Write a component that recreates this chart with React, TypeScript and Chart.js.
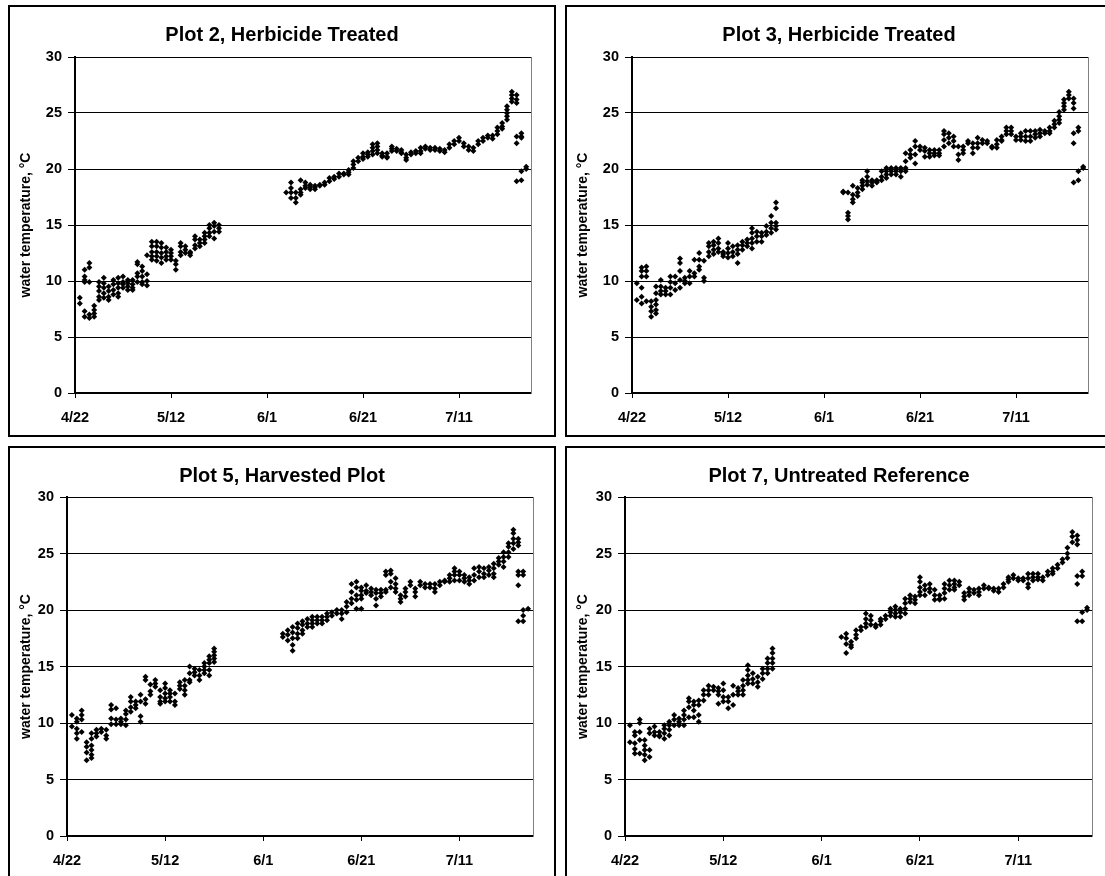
import React, { useEffect, useRef } from "react";
import { Chart, registerables } from "chart.js";

Chart.register(...registerables);

// Days after 4/22 on which readings were taken
const sampleDays = [
  1, 2, 3, 4, 5, 6, 7, 8, 9, 10, 11, 12, 13, 14, 15, 16, 17, 18, 19, 20, 21, 22, 23, 24, 25, 26, 27, 28, 29, 30,
  44, 45, 46, 47, 48, 49, 50, 51, 52, 53, 54, 55, 56, 57, 58, 59, 60, 61, 62, 63, 64, 65, 66, 67, 68, 69, 70,
  71, 72, 73, 74, 75, 76, 77, 78, 79, 80, 81, 82, 83, 84, 85, 86, 87, 88, 89, 90, 91, 92, 93, 94,
];

const xTickDays = [0, 20, 40, 60, 80];
const xTickLabels = ["4/22", "5/12", "6/1", "6/21", "7/11"];

const plot2Temps = [
  [8.5, 8.0], [11.0, 10.4, 10.1, 9.9, 7.3, 6.8], [11.6, 11.2, 9.9, 7.0, 6.7], [7.8, 7.4, 7.1, 6.8],
  [9.9, 9.5, 9.1, 8.6, 8.3], [10.3, 9.8, 9.4, 8.9, 8.5], [9.5, 9.1, 8.6, 8.3], [10.1, 9.7, 9.2, 8.8],
  [10.3, 9.8, 9.4, 8.9, 8.6], [10.4, 9.9, 9.7, 9.4], [10.1, 9.8, 9.5, 9.2], [10.1, 9.7, 9.4, 9.2],
  [11.7, 11.5, 10.7, 10.4, 9.9], [11.3, 10.9, 10.4, 9.9, 9.7], [12.3, 10.6, 10.0, 9.6], [13.5, 13.1, 12.6, 12.2, 11.9],
  [13.5, 13.1, 12.6, 12.2, 11.8], [13.4, 13.0, 12.5, 12.1, 11.6], [13.0, 12.6, 12.2, 11.9], [12.8, 12.5, 12.2, 11.9],
  [11.8, 11.5, 11.0], [13.4, 13.1, 12.6, 12.3], [13.1, 12.8, 12.5], [12.6, 12.5, 12.3],
  [14.0, 13.7, 13.2, 12.9], [13.7, 13.4, 13.1], [14.3, 14.0, 13.7, 13.4], [15.0, 14.7, 14.3, 14.0],
  [15.2, 14.9, 14.4, 13.8], [15.0, 14.7, 14.4],
  [17.9], [18.8, 18.3, 17.9, 17.4], [17.9, 17.4, 17.0], [19.0, 18.2, 17.9, 17.7], [18.8, 18.5, 18.3],
  [18.6, 18.4, 18.2], [18.5, 18.4, 18.2], [18.6, 18.5], [18.8, 18.6], [19.2, 18.9], [19.3, 19.1],
  [19.6, 19.3], [19.6, 19.5], [19.9, 19.7, 19.5], [20.7, 20.4, 20.1], [21.0, 20.7], [21.4, 21.1, 20.9],
  [21.5, 21.3, 21.1], [22.2, 21.9, 21.6, 21.3], [22.3, 22.0, 21.7, 21.4], [21.4, 21.2, 21.1], [21.4, 21.1, 21.0],
  [22.0, 21.8, 21.6], [21.8, 21.6], [21.7, 21.5, 21.4], [21.3, 21.0, 20.8], [21.5, 21.3], [21.6, 21.4],
  [21.9, 21.6, 21.4], [22.0, 21.8], [21.9, 21.7], [21.9, 21.7], [21.8, 21.6], [21.7, 21.5], [22.2, 21.9],
  [22.5, 22.2], [22.8, 22.5], [22.3, 22.0], [22.0, 21.7], [21.9, 21.6], [22.5, 22.2], [22.8, 22.5],
  [23.0, 22.8], [23.0, 22.7], [23.7, 23.4, 23.1], [24.1, 23.8, 23.6], [25.6, 25.3, 25.0, 24.7, 24.4],
  [26.9, 26.6, 26.3, 26.0], [26.6, 26.2, 25.9, 22.9, 22.3, 18.9], [23.2, 22.9, 22.8, 19.8, 19.0], [20.2, 20.0],
];

const plot3Temps = [
  [9.8, 8.3], [11.2, 10.9, 10.4, 9.4, 8.6, 8.0], [11.3, 10.9, 10.4, 8.2], [8.2, 7.7, 7.3, 6.8],
  [9.5, 8.9, 8.3, 7.9, 7.4, 7.1], [10.1, 9.5, 9.1, 8.8], [9.4, 9.1, 8.8], [10.4, 9.9, 9.4, 8.8],
  [10.4, 9.8, 9.2], [12.0, 11.6, 10.9, 10.1, 9.4], [10.3, 10.0, 9.8], [10.9, 10.4, 9.8],
  [11.9, 10.7, 10.4], [12.5, 11.9, 11.3, 11.0], [11.8, 10.3, 10.0], [13.4, 13.1, 12.6, 12.2],
  [13.5, 13.2, 12.8, 12.4], [13.8, 13.4, 12.9, 12.6], [12.6, 12.4, 12.2], [13.4, 12.9, 12.5, 12.1],
  [13.1, 12.6, 12.2], [13.2, 12.8, 12.4, 11.6], [13.5, 13.2, 12.8], [13.7, 13.4, 13.1],
  [14.7, 14.3, 13.8, 13.4, 12.9], [14.4, 14.0, 13.5], [14.3, 14.0, 13.5], [14.9, 14.4, 14.1],
  [15.8, 15.2, 14.7, 14.3], [17.0, 16.5, 15.2, 14.9, 14.6],
  [18.0, 17.9], [17.9, 16.1, 15.8, 15.5], [18.5, 17.7, 17.3, 17.0], [18.3, 17.9, 17.6], [19.0, 18.8, 18.5, 18.2],
  [19.8, 19.3, 18.9, 18.6], [19.0, 18.8, 18.5], [19.0, 18.9, 18.8], [19.8, 19.3, 19.0], [20.1, 19.8, 19.5, 19.2],
  [20.1, 19.8, 19.5], [20.1, 19.8, 19.5], [20.1, 19.8, 19.3], [21.4, 20.7, 20.1, 19.8], [21.7, 21.3, 21.0],
  [22.5, 22.0, 21.3, 20.5], [22.0, 21.7], [21.9, 21.6, 21.1], [21.7, 21.4, 21.1], [21.7, 21.4, 21.2],
  [21.7, 21.4, 21.2], [23.4, 23.1, 22.6, 22.0], [23.2, 22.8, 22.3], [22.9, 22.5, 22.0], [22.0, 21.3, 20.8],
  [22.0, 21.7, 21.4], [22.5, 22.3], [22.3, 21.9, 21.4], [22.8, 22.3, 21.9], [22.6, 22.3], [22.5, 22.3],
  [22.0, 21.9], [22.6, 22.2, 21.9], [22.9, 22.6, 22.5], [23.7, 23.4, 23.1], [23.7, 23.4, 23.1], [22.9, 22.6],
  [23.2, 22.9, 22.6], [23.4, 22.9, 22.5], [23.4, 22.9, 22.5], [23.4, 23.1, 22.8], [23.5, 23.2, 22.9],
  [23.4, 23.2], [23.7, 23.4, 23.2], [24.3, 24.0, 23.7], [25.1, 24.7, 24.4, 24.1], [26.2, 25.9, 25.6, 25.3],
  [26.9, 26.6, 26.3], [26.3, 25.9, 25.4, 23.2, 22.3, 18.8], [23.7, 23.4, 19.8, 19.0], [20.2, 20.1],
];

const plot5Temps = [
  [10.7, 9.7], [10.4, 10.1, 9.5, 9.1, 8.6], [11.1, 10.7, 10.3, 9.2], [8.3, 7.9, 7.4, 6.7],
  [9.1, 8.6, 8.0, 7.6, 7.2, 6.9], [9.4, 9.1, 8.8], [9.5, 9.2], [9.4, 8.9, 8.6],
  [11.6, 11.2, 10.4, 9.9], [11.3, 10.3, 9.9], [10.4, 10.1, 9.9], [11.1, 10.8, 10.3, 9.8],
  [12.3, 11.9, 11.4, 11.0], [11.9, 11.6, 11.3], [12.5, 11.9, 10.6, 10.1], [14.1, 13.8, 12.1, 11.7],
  [13.4, 12.8, 12.5], [13.8, 13.5, 13.2], [12.9, 12.3, 11.9, 11.7], [13.5, 13.1, 12.6, 12.2, 11.9],
  [12.9, 12.6, 12.3, 11.9], [12.6, 11.9, 11.6], [13.6, 13.3, 13.0], [13.8, 13.3, 12.9, 12.5],
  [15.0, 14.4, 13.8, 13.6], [14.8, 14.5, 14.2], [14.7, 14.2, 13.8], [15.3, 15.0, 14.7, 14.4],
  [15.9, 15.6, 15.3, 14.7, 14.2], [16.6, 16.3, 16.0, 15.7, 15.4],
  [17.9, 17.6], [18.2, 17.8, 17.3], [18.5, 18.0, 17.5, 16.9, 16.4], [18.8, 18.4, 17.9, 17.5], [19.0, 18.7, 18.2, 17.9],
  [19.2, 18.8, 18.5], [19.4, 19.1, 18.8, 18.5], [19.4, 19.1, 18.8], [19.4, 19.1, 18.8], [19.7, 19.4, 19.1],
  [19.8, 19.5], [20.0, 19.7], [20.0, 19.7, 19.2], [20.7, 20.3, 19.8], [22.3, 21.6, 21.0, 20.6],
  [22.5, 22.0, 21.3, 20.9, 20.1], [22.0, 21.7, 21.3, 21.0, 20.1], [22.2, 21.7, 21.5], [21.9, 21.6, 21.3],
  [21.8, 21.5, 21.0, 20.4], [21.8, 21.5, 21.2], [23.4, 23.1, 21.8, 21.6], [23.5, 23.2, 22.5, 22.0],
  [22.8, 22.3, 21.9, 21.6], [21.3, 21.0, 20.7], [21.9, 21.6, 21.2], [22.5, 22.2], [21.9, 21.6, 21.2],
  [22.5, 22.2], [22.3, 22.0], [22.3, 22.0], [22.3, 21.9, 21.6], [22.5, 22.2], [22.6, 22.5],
  [23.1, 22.8, 22.5], [23.7, 23.4, 23.1, 22.6], [23.4, 23.1, 22.6], [23.1, 22.8, 22.5], [22.9, 22.6, 22.3],
  [23.7, 23.1, 22.6], [23.8, 23.4, 22.9], [23.7, 23.2, 22.9], [23.8, 23.5, 23.1], [24.1, 23.7, 23.2, 22.9],
  [24.6, 24.3, 24.0], [25.1, 24.7, 24.3, 23.8], [25.9, 25.6, 25.1, 24.7], [27.1, 26.8, 26.3, 25.9, 25.4],
  [26.3, 26.0, 25.7, 23.4, 23.1, 22.2, 19.0], [23.4, 23.1, 20.0, 19.5, 19.0], [20.1],
];

const plot7Temps = [
  [9.8, 8.3], [9.2, 8.9, 8.2, 7.7, 7.3], [10.3, 10.0, 9.2, 8.5, 7.3], [8.5, 8.0, 7.6, 7.2, 6.7],
  [9.5, 9.1, 7.6, 7.0], [9.7, 9.2, 8.9], [9.2, 8.9, 8.8], [9.8, 9.5, 9.1, 8.6],
  [10.1, 9.8, 9.4, 8.9], [10.7, 10.3, 9.8], [10.4, 10.1, 9.8], [11.1, 10.7, 10.3, 9.8],
  [12.2, 11.9, 11.4, 10.5], [11.9, 11.6, 11.1, 10.5], [12.0, 11.6, 10.7, 10.1], [12.9, 12.5, 12.0],
  [13.3, 12.9, 12.5], [13.2, 12.9], [13.1, 12.8, 12.5, 11.7], [13.5, 12.9, 12.3, 11.9],
  [12.3, 11.9, 11.3], [13.3, 12.5, 11.6], [13.1, 12.8, 12.5], [13.8, 13.3, 12.9, 12.5],
  [15.1, 14.7, 14.2, 13.8, 13.5], [14.4, 13.9, 13.5], [14.1, 13.6, 13.2], [14.8, 14.4, 13.9],
  [15.7, 15.3, 14.8, 14.4], [16.6, 16.2, 15.7, 15.3, 14.8],
  [17.6], [17.9, 17.5, 17.0, 16.2], [17.2, 16.9, 16.7], [18.2, 17.8, 17.5], [18.5, 18.2],
  [19.7, 19.2, 18.8, 18.5], [19.5, 19.1, 18.7], [18.7, 18.5], [19.2, 19.0, 18.7], [19.5, 19.2],
  [20.1, 19.8, 19.5], [20.3, 20.0, 19.7, 19.4], [20.1, 19.8, 19.4], [21.0, 20.6, 20.1, 19.7], [21.3, 21.0, 20.7],
  [21.2, 20.9, 20.6], [22.9, 22.5, 22.0, 21.6, 21.3], [22.2, 21.8, 21.3], [22.3, 21.9, 21.6], [21.8, 21.3, 20.9],
  [21.3, 21.0, 20.9], [22.3, 21.9, 21.5, 21.0], [22.6, 22.2, 21.8], [22.6, 22.3, 22.0, 21.8], [22.5, 22.2],
  [21.5, 21.2, 20.9], [21.9, 21.6, 21.3], [21.8, 21.5], [21.9, 21.6, 21.3], [22.2, 21.9], [22.0, 21.9],
  [21.9, 21.7], [21.9, 21.6], [22.3, 22.0], [22.9, 22.7, 22.5], [23.1, 22.8], [22.8, 22.6],
  [22.8, 22.6], [23.2, 22.8, 22.3, 22.0], [23.2, 22.9, 22.6], [23.2, 22.9, 22.7], [22.9, 22.6],
  [23.4, 23.1], [23.7, 23.4, 23.2], [24.0, 23.7], [24.5, 24.2], [25.5, 25.0, 24.6],
  [26.9, 26.5, 26.0], [26.6, 26.2, 25.8, 23.0, 22.3, 19.0], [23.4, 23.0, 19.8, 19.0], [20.2, 20.0],
];

const panelTitles = [
  "Plot 2, Herbicide Treated",
  "Plot 3, Herbicide Treated",
  "Plot 5, Harvested Plot",
  "Plot 7, Untreated Reference",
];
const panelTemps = [plot2Temps, plot3Temps, plot5Temps, plot7Temps];

const yAxisTitle = "water temperature, °C";

// layout (page px): box position, and plot area inside the canvas
const panelBoxes = [
  { left: 8, top: 5, pl: 65, pt: 50, pr: 521, pb: 386 },
  { left: 565, top: 5, pl: 65, pt: 50, pr: 521, pb: 386 },
  { left: 8, top: 446, pl: 57, pt: 49, pr: 523, pb: 388 },
  { left: 565, top: 446, pl: 58, pt: 49, pr: 525, pb: 388 },
];

const BOX_W = 548;
const BOX_H = 432;
const BORDER = 2;
const CW = BOX_W - 2 * BORDER;
const CH = BOX_H - 2 * BORDER;
const FONT = "'Liberation Sans', Arial, sans-serif";

function Panel({ index }: { index: number }) {
  const ref = useRef<HTMLCanvasElement | null>(null);
  useEffect(() => {
    if (!ref.current) return;
    const box = panelBoxes[index];
    const temps = panelTemps[index];
    const points = sampleDays.flatMap((d, i) => temps[i].map((v) => ({ x: d, y: v })));
    const titleSize = 20;
    const titleLH = titleSize * 1.2;
    const titleTop = 16;
    const chart = new Chart(ref.current, {
      type: "scatter",
      data: {
        datasets: [
          {
            data: points,
            pointStyle: "rectRot",
            pointRadius: 3,
            pointBackgroundColor: "#000",
            pointBorderColor: "#000",
            pointBorderWidth: 0,
            showLine: false,
          },
        ],
      },
      options: {
        animation: false,
        responsive: false,
        maintainAspectRatio: false,
        devicePixelRatio: 1,
        events: [],
        layout: { padding: 0 },
        plugins: {
          legend: { display: false },
          tooltip: { enabled: false },
          title: {
            display: true,
            text: panelTitles[index],
            color: "#000",
            font: { family: FONT, size: titleSize, weight: "bold", lineHeight: 1.2 },
            padding: { top: titleTop, bottom: box.pt - titleTop - titleLH },
          },
        },
        scales: {
          x: {
            type: "linear",
            min: 0,
            max: 95,
            afterBuildTicks: (s: any) => {
              s.ticks = xTickDays.map((v) => ({ value: v }));
            },
            afterFit: (s: any) => {
              s.height = CH - box.pb;
            },
            ticks: {
              color: "#000",
              font: { family: FONT, size: 14.5, weight: "bold" },
              padding: 11,
              maxRotation: 0,
              autoSkip: false,
              callback: (_v: any, i: number) => xTickLabels[i],
            },
            grid: { drawOnChartArea: false, drawTicks: true, tickLength: 5, color: "#000", lineWidth: 1 },
            border: { display: true, color: "#000", width: 2 },
          },
          y: {
            type: "linear",
            position: "left",
            min: 0,
            max: 30,
            afterFit: (s: any) => {
              s.width = box.pl;
            },
            ticks: {
              stepSize: 5,
              color: "#000",
              font: { family: FONT, size: 14.5, weight: "bold" },
              padding: 6,
            },
            grid: { drawOnChartArea: true, drawTicks: true, tickLength: 7, color: "#000", lineWidth: 1 },
            border: { display: true, color: "#000", width: 2 },
            title: {
              display: true,
              text: yAxisTitle,
              color: "#000",
              font: { family: FONT, size: 14, weight: "bold", lineHeight: 1.2 },
              padding: { top: 8, bottom: 0 },
            },
          },
          yRight: {
            type: "linear",
            position: "right",
            display: true,
            afterFit: (s: any) => {
              s.width = CW - box.pr;
            },
            ticks: { display: false },
            grid: { display: false, drawTicks: false },
            border: { display: true, color: "#808080", width: 1 },
          },
        },
      },
    });
    return () => chart.destroy();
  }, [index]);
  const box = panelBoxes[index];
  return (
    <div
      style={{
        position: "absolute",
        left: box.left,
        top: box.top,
        width: BOX_W,
        height: BOX_H,
        boxSizing: "border-box",
        border: `${BORDER}px solid #000`,
        background: "#fff",
      }}
    >
      <canvas ref={ref} width={CW} height={CH} style={{ display: "block", width: CW, height: CH }} />
    </div>
  );
}

export default function App() {
  return (
    <div
      style={{
        position: "absolute",
        left: 0,
        top: 0,
        width: 1105,
        height: 876,
        overflow: "hidden",
        background: "#fff",
      }}
    >
      {[0, 1, 2, 3].map((i) => (
        <Panel key={i} index={i} />
      ))}
    </div>
  );
}
